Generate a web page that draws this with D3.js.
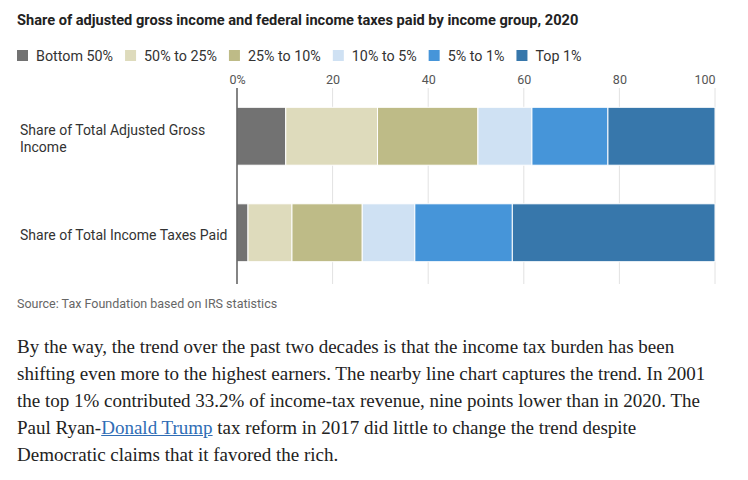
<!DOCTYPE html>
<html>
<head>
<meta charset="utf-8">
<script src="https://cdn.jsdelivr.net/npm/d3@7"></script>
<style>
  body { margin: 0; background: #fff; }
  #chart { display: block; }
  .para {
    position: absolute; left: 17px; top: 333px; width: 728px;
    font-family: "Liberation Serif", serif; font-size: 19px; line-height: 27px;
    color: #222;
  }
  .para a { color: #2f6db5; text-decoration: underline; }
</style>
</head>
<body>
<svg id="chart" width="748" height="320"></svg>
<div class="para">By the way, the trend over the past two decades is that the income tax burden has been<br>shifting even more to the highest earners. The nearby line chart captures the trend. In 2001<br>the top 1% contributed 33.2% of income-tax revenue, nine points lower than in 2020. The<br>Paul Ryan-<a href="#">Donald Trump</a> tax reform in 2017 did little to change the trend despite<br>Democratic claims that it favored the rich.</div>
<script>
// chart data
const categories = ["Share of Total Adjusted Gross Income", "Share of Total Income Taxes Paid"];
const groups = ["Bottom 50%", "50% to 25%", "25% to 10%", "10% to 5%", "5% to 1%", "Top 1%"];
const agiShare = [10.2, 19.2, 21.0, 11.3, 15.9, 22.4];
const taxShare = [2.3, 9.2, 14.7, 11.0, 20.4, 42.4];
const groupColors = ["#727272", "#dedbbc", "#bebb87", "#cfe1f3", "#4695d9", "#3777ab"];
const xTicks = [0, 20, 40, 60, 80, 100];

const sans = "Roboto, 'Noto Sans', sans-serif";

// build rows for d3.stack
const table = [agiShare, taxShare].map(function(vals, i) {
  const row = {category: categories[i]};
  groups.forEach(function(g, j) { row[g] = vals[j]; });
  return row;
});

const svg = d3.select("#chart");

const xScale = d3.scaleLinear().domain([0, 100]).range([237, 715]);
const yScale = d3.scaleBand().domain(categories).range([88, 281])
                 .paddingInner(0.4).paddingOuter(0.2);
const color = d3.scaleOrdinal().domain(groups).range(groupColors);

// title
svg.append("text")
  .attr("x", 17)
  .attr("y", 25)
  .style("font-family", sans)
  .style("font-size", "14.6px")
  .style("font-weight", "700")
  .style("fill", "#222")
  .text("Share of adjusted gross income and federal income taxes paid by income group, 2020");

// legend
const legend = svg.append("g").attr("transform", "translate(17,56)");
let lx = 0;
groups.forEach(function(g) {
  const item = legend.append("g").attr("transform", `translate(${lx},0)`);
  item.append("rect")
    .attr("x", 0).attr("y", -6)
    .attr("width", 11).attr("height", 11)
    .style("fill", color(g));
  const t = item.append("text")
    .attr("x", 19)
    .attr("y", 0)
    .attr("dy", "0.35em")
    .style("font-family", sans)
    .style("font-size", "14.3px")
    .style("fill", "#333")
    .text(g);
  lx += 19 + t.node().getComputedTextLength() + 12;
});

// gridlines
svg.append("g")
  .selectAll("line")
  .data(xTicks.slice(1))
  .enter().append("line")
  .attr("x1", d => xScale(d)).attr("x2", d => xScale(d))
  .attr("y1", 88).attr("y2", 284)
  .style("stroke", "#e2e2e2")
  .style("stroke-width", 1);

// tick labels on top
const xAxis = d3.axisTop(xScale)
  .tickValues(xTicks)
  .tickSize(0)
  .tickFormat(d => d === 0 ? "0%" : d);
const gx = svg.append("g")
  .attr("transform", "translate(0,87)")
  .call(xAxis);
gx.select(".domain").remove();
gx.selectAll("text")
  .style("font-family", sans)
  .style("font-size", "12.5px")
  .style("fill", "#555")
  .attr("dy", 0);
gx.selectAll(".tick").filter(d => d === 100).select("text").attr("text-anchor", "end");

// stacked bars
const series = d3.stack().keys(groups)(table);
svg.append("g")
  .selectAll("g")
  .data(series)
  .enter().append("g")
  .style("fill", d => color(d.key))
  .selectAll("rect")
  .data(d => d)
  .enter().append("rect")
  .attr("x", d => xScale(d[0]))
  .attr("width", d => xScale(d[1]) - xScale(d[0]))
  .attr("y", d => yScale(d.data.category))
  .attr("height", yScale.bandwidth())
  .style("stroke", "#fff")
  .style("stroke-width", 1);

// zero line
svg.append("line")
  .attr("x1", xScale(0)).attr("x2", xScale(0))
  .attr("y1", 88).attr("y2", 284)
  .style("stroke", "#333")
  .style("stroke-width", 1.2);

// category labels, wrapped
function wrapLines(text, maxWidth, probe) {
  const words = text.split(" ");
  const lines = [];
  let line = [];
  words.forEach(function(w) {
    line.push(w);
    probe.text(line.join(" "));
    if (probe.node().getComputedTextLength() > maxWidth && line.length > 1) {
      line.pop();
      lines.push(line.join(" "));
      line = [w];
    }
  });
  lines.push(line.join(" "));
  return lines;
}

categories.forEach(function(c) {
  const label = svg.append("text")
    .attr("x", 20)
    .style("font-family", sans)
    .style("font-size", "14px")
    .style("fill", "#333");
  const lines = wrapLines(c, 214, label);
  label.text(null);
  const lh = 17;
  const y0 = yScale(c) + yScale.bandwidth() / 2 - (lines.length - 1) * lh / 2 + 2;
  lines.forEach(function(l, i) {
    label.append("tspan")
      .attr("x", 20)
      .attr("y", y0 + i * lh)
      .attr("dy", "0.35em")
      .text(l);
  });
});

// source
svg.append("text")
  .attr("x", 17)
  .attr("y", 308)
  .style("font-family", sans)
  .style("font-size", "12.5px")
  .style("fill", "#666")
  .text("Source: Tax Foundation based on IRS statistics");
</script>
</body>
</html>
